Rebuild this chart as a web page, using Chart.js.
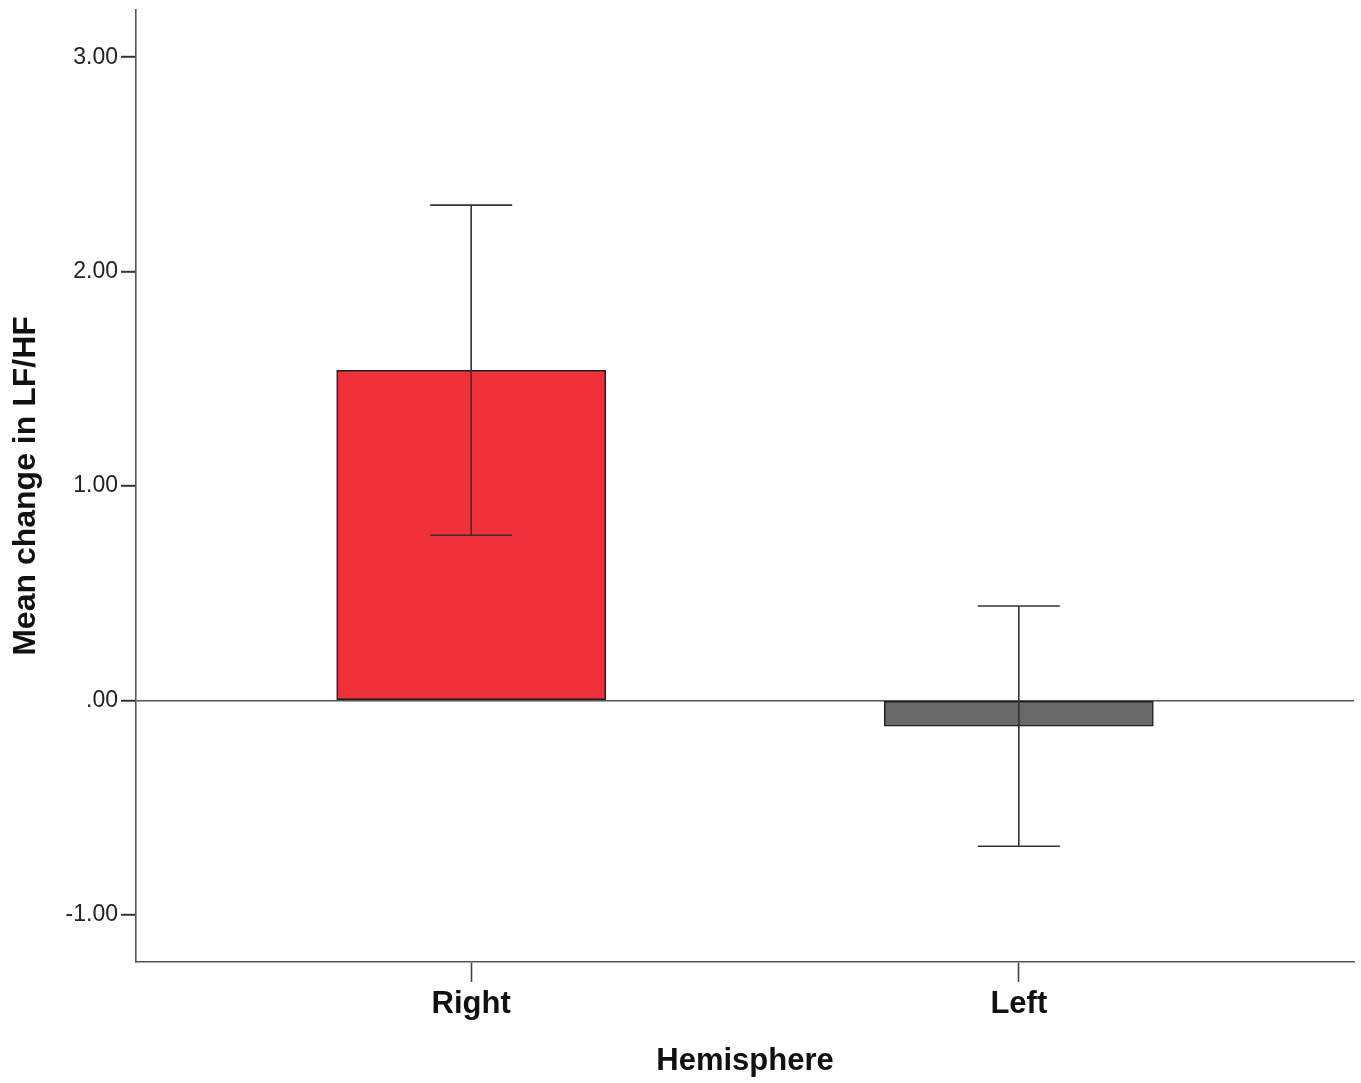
<!DOCTYPE html>
<html>
<head>
<meta charset="utf-8">
<script src="https://cdn.jsdelivr.net/npm/chart.js@4/dist/chart.umd.min.js"></script>
<style>
  html, body { margin: 0; padding: 0; background: #fff; }
  #wrap { width: 1361px; height: 1083px; }
</style>
</head>
<body>
<div id="wrap"><canvas id="lfhfChart"></canvas></div>
<script>
const categories = ['Right', 'Left'];
const meanChange = [1.54, -0.12];
const errLow = [0.77, -0.68];
const errHigh = [2.31, 0.44];
const yTicks = [-1, 0, 1, 2, 3];
const barColors = ['#ef3139', '#686868'];

// error bars drawn through the chart's own scales
const errorBars = {
    id: 'errorBars',
    afterDatasetsDraw(chart) {
        const { ctx, scales: { x, y } } = chart;
        ctx.save();
        ctx.strokeStyle = '#333';
        ctx.lineWidth = 1.6;
        categories.forEach((c, i) => {
            const px = x.getPixelForValue(i);
            const lo = y.getPixelForValue(errLow[i]);
            const hi = y.getPixelForValue(errHigh[i]);
            ctx.beginPath();
            ctx.moveTo(px, lo); ctx.lineTo(px, hi);
            ctx.moveTo(px - 41, lo); ctx.lineTo(px + 41, lo);
            ctx.moveTo(px - 41, hi); ctx.lineTo(px + 41, hi);
            ctx.stroke();
        });
        ctx.restore();
    }
};

document.addEventListener('DOMContentLoaded', () => {
    const el = document.getElementById('lfhfChart');
    new Chart(el, {
        type: 'bar',
        data: {
            datasets: [{
                data: meanChange.map((v, i) => ({ x: i, y: v })),
                backgroundColor: barColors,
                borderColor: '#1e1e1e',
                borderWidth: 1.5,
                borderSkipped: false,
                barThickness: 269
            }]
        },
        options: {
            responsive: true,
            maintainAspectRatio: false,
            animation: false,
            layout: { padding: { top: 10, right: 7, left: 0, bottom: 0 } },
            plugins: { legend: { display: false }, tooltip: { enabled: false } },
            scales: {
                x: {
                    type: 'linear',
                    offset: false,
                    min: -0.612,
                    max: 1.612,
                    afterBuildTicks: s => { s.ticks = categories.map((c, i) => ({ value: i })); },
                    afterFit: s => { s.height = 121; },
                    ticks: {
                        callback: v => categories[v],
                        color: '#111',
                        padding: 4,
                        maxRotation: 0,
                        font: { family: 'Liberation Sans, Arial, sans-serif', size: 31, weight: 'bold' }
                    },
                    grid: { offset: false, drawOnChartArea: false, tickLength: 20, tickColor: '#444', tickWidth: 1.6 },
                    border: { color: '#555', width: 1.6 },
                    title: {
                        display: true,
                        text: 'Hemisphere',
                        color: '#111',
                        padding: { top: 0, bottom: 3 },
                        font: { family: 'Liberation Sans, Arial, sans-serif', size: 31, weight: 'bold' }
                    }
                },
                y: {
                    min: -1.22,
                    max: 3.22,
                    afterBuildTicks: s => { s.ticks = yTicks.map(v => ({ value: v })); },
                    afterFit: s => { s.width = 136; s.paddingTop = 0; s.paddingBottom = 0; },
                    ticks: {
                        callback: v => v === 0 ? '.00' : v.toFixed(2),
                        color: '#222',
                        padding: 3,
                        font: { family: 'Liberation Sans, Arial, sans-serif', size: 23 }
                    },
                    grid: {
                        color: c => c.tick && c.tick.value === 0 ? '#555' : 'rgba(0,0,0,0)',
                        lineWidth: 1.6,
                        tickLength: 15,
                        tickColor: '#333',
                        tickWidth: 2
                    },
                    border: { color: '#555', width: 1.6 },
                    title: {
                        display: true,
                        text: 'Mean change in LF/HF',
                        color: '#111',
                        padding: { top: 7, bottom: 0 },
                        font: { family: 'Liberation Sans, Arial, sans-serif', size: 32, weight: 'bold' }
                    }
                }
            }
        },
        plugins: [errorBars]
    });
});
</script>
</body>
</html>
